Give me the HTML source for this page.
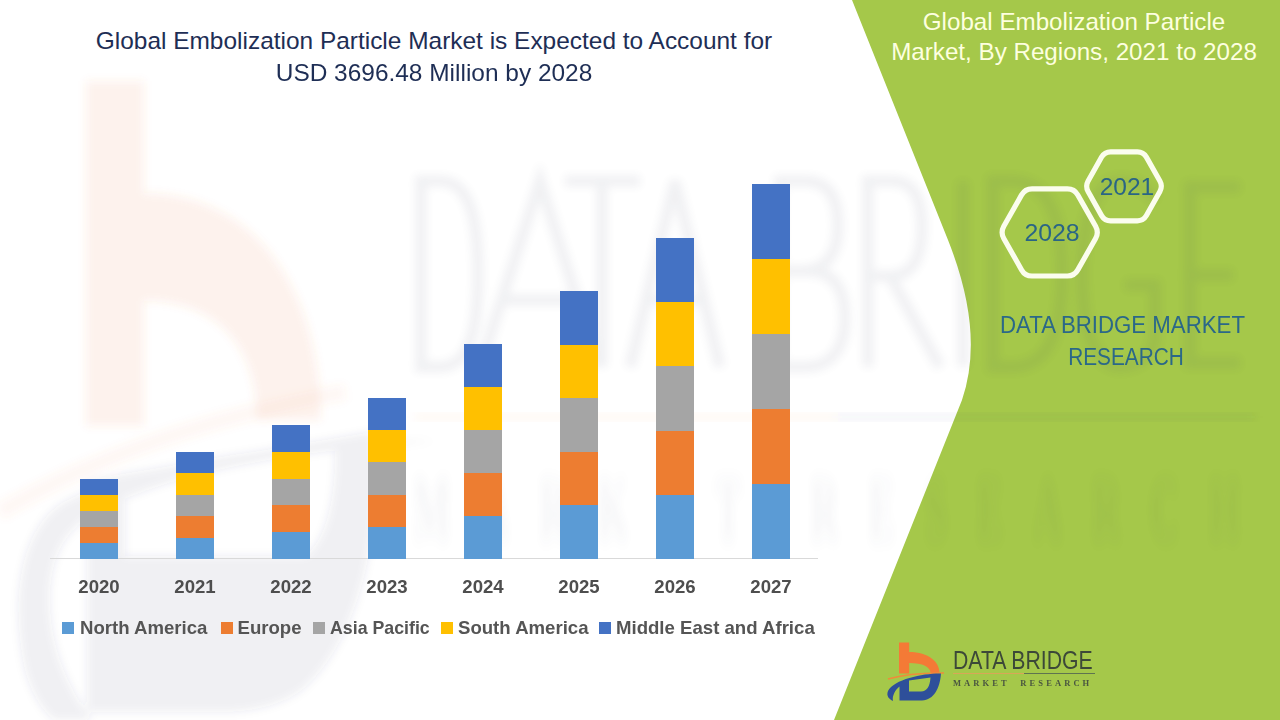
<!DOCTYPE html>
<html>
<head>
<meta charset="utf-8">
<style>
html,body{margin:0;padding:0;}
body{width:1280px;height:720px;position:relative;overflow:hidden;background:#ffffff;font-family:"Liberation Sans",sans-serif;}
.abs{position:absolute;}
.t{position:absolute;white-space:nowrap;line-height:1;}
.bar{position:absolute;width:38px;}
.lbl{position:absolute;white-space:nowrap;font-weight:bold;color:#4E4E4E;font-size:18.6px;line-height:1;}
.mk{position:absolute;width:11.5px;height:11.5px;top:622.3px;}
.leg{color:#555555 !important;}
</style>
</head>
<body>
<!-- background shapes -->
<svg class="abs" style="left:0;top:0" width="1280" height="720" viewBox="0 0 1280 720">
  <path d="M852,0 L1280,0 L1280,720 L834,720 L962,400 Q985,333 948,240 Z" fill="#A5C84A"/>
</svg>

<!-- watermark -->
<svg class="abs" style="left:0;top:0" width="1280" height="720" viewBox="0 0 1280 720">
  <defs>
    <filter id="bl" x="-20%" y="-20%" width="140%" height="140%"><feGaussianBlur stdDeviation="4"/></filter>
  </defs>
  <g filter="url(#bl)">
    <!-- orange b -->
    <g fill="#E97A42" opacity="0.09">
      <rect x="86" y="81" width="58" height="345"/>
      <path d="M144,193 C255,193 321,290 321,420 L257,420 C257,350 220,301 144,301 Z"/>
    </g>
    <path d="M0,512 Q140,430 345,392" fill="none" stroke="#E97A42" stroke-width="16" opacity="0.06"/>
    <!-- blue crescent + D -->
    <g fill="#3D4474" opacity="0.08">
      <path d="M437,441 C330,440 150,455 62,503 C20,530 10,600 25,670 C32,695 42,710 54,720 L92,720 C70,690 50,650 50,600 C50,560 62,530 100,510 C180,470 300,450 437,441 Z"/>
      <path fill-rule="evenodd" d="M87,480 L372,432 C385,520 362,640 302,690 C282,705 252,712 222,712 L87,712 Z M125,478 L335,448 C336,500 326,540 305,556 L125,556 Z"/>
    </g>
  </g>
  <g filter="url(#bl)" fill="none" stroke="#3A4060" stroke-width="11" stroke-linecap="butt" opacity="0.07">
    <path d="M421,181 L421,367 M415,181 L440,181 C470,181 478,220 478,274 C478,328 470,367 440,367 L415,367"/>
    <path d="M480,367 L540,181 L598,367 M500,300 L578,300"/>
    <path d="M565,181 L640,181 M602,181 L602,367"/>
    <path d="M630,367 L675,181 L720,367 M645,300 L705,300"/>
    <path d="M780,181 L780,367 M774,181 L805,181 C830,181 838,200 838,226 C838,255 825,271 800,271 L780,271 M780,271 L808,271 C835,271 845,290 845,318 C845,350 830,367 805,367 L774,367"/>
    <path d="M868,181 L868,367 M862,181 L892,181 C915,181 922,200 922,228 C922,258 912,276 890,276 L868,276 M890,276 L940,367"/>
    <path d="M963,181 L963,367"/>
    <path d="M993,181 L993,367 M987,181 L1012,181 C1050,181 1062,220 1062,274 C1062,328 1050,367 1012,367 L987,367"/>
    <path d="M1155,200 C1145,186 1132,181 1120,181 C1095,181 1082,220 1082,274 C1082,328 1095,367 1120,367 C1140,367 1152,355 1155,340 L1155,285 L1125,285"/>
    <path d="M1190,181 L1190,367 M1184,187 L1240,187 M1184,275 L1233,275 M1184,363 L1240,363"/>
  </g>
  <g filter="url(#bl)">
    <rect x="415" y="414" width="420" height="6" fill="#ED7D31" opacity="0.06"/>
    <rect x="835" y="414" width="420" height="6" fill="#3A4060" opacity="0.06"/>
  </g>
  <text x="413" y="540" font-family="Liberation Serif" font-weight="bold" font-size="40" fill="#3A4060" opacity="0.05" transform="translate(0,540) scale(1,2.3) translate(0,-540)" textLength="827" lengthAdjust="spacing" filter="url(#bl)">MARKET  RESEARCH</text>
</svg>

<!-- title -->
<div class="t" style="left:0;width:868px;text-align:center;top:29px;font-size:24.45px;color:#1E2E55;">Global Embolization Particle Market is Expected to Account for</div>
<div class="t" style="left:0;width:868px;text-align:center;top:61px;font-size:24.45px;color:#1E2E55;">USD 3696.48 Million by 2028</div>

<!-- axis -->
<div class="abs" style="left:50px;top:558px;width:768px;height:1px;background:#D9D9D9"></div>

<!-- bars generated -->
<div class="bar" style="left:80px;top:543px;height:16px;background:#5B9BD5"></div>
<div class="bar" style="left:80px;top:527px;height:16px;background:#ED7D31"></div>
<div class="bar" style="left:80px;top:511px;height:16px;background:#A5A5A5"></div>
<div class="bar" style="left:80px;top:495px;height:16px;background:#FFC000"></div>
<div class="bar" style="left:80px;top:479px;height:16px;background:#4472C4"></div>
<div class="bar" style="left:176px;top:538px;height:21px;background:#5B9BD5"></div>
<div class="bar" style="left:176px;top:516px;height:22px;background:#ED7D31"></div>
<div class="bar" style="left:176px;top:495px;height:21px;background:#A5A5A5"></div>
<div class="bar" style="left:176px;top:473px;height:22px;background:#FFC000"></div>
<div class="bar" style="left:176px;top:452px;height:21px;background:#4472C4"></div>
<div class="bar" style="left:272px;top:532px;height:27px;background:#5B9BD5"></div>
<div class="bar" style="left:272px;top:505px;height:27px;background:#ED7D31"></div>
<div class="bar" style="left:272px;top:479px;height:26px;background:#A5A5A5"></div>
<div class="bar" style="left:272px;top:452px;height:27px;background:#FFC000"></div>
<div class="bar" style="left:272px;top:425px;height:27px;background:#4472C4"></div>
<div class="bar" style="left:368px;top:527px;height:32px;background:#5B9BD5"></div>
<div class="bar" style="left:368px;top:495px;height:32px;background:#ED7D31"></div>
<div class="bar" style="left:368px;top:462px;height:33px;background:#A5A5A5"></div>
<div class="bar" style="left:368px;top:430px;height:32px;background:#FFC000"></div>
<div class="bar" style="left:368px;top:398px;height:32px;background:#4472C4"></div>
<div class="bar" style="left:464px;top:516px;height:43px;background:#5B9BD5"></div>
<div class="bar" style="left:464px;top:473px;height:43px;background:#ED7D31"></div>
<div class="bar" style="left:464px;top:430px;height:43px;background:#A5A5A5"></div>
<div class="bar" style="left:464px;top:387px;height:43px;background:#FFC000"></div>
<div class="bar" style="left:464px;top:344px;height:43px;background:#4472C4"></div>
<div class="bar" style="left:560px;top:505px;height:54px;background:#5B9BD5"></div>
<div class="bar" style="left:560px;top:452px;height:53px;background:#ED7D31"></div>
<div class="bar" style="left:560px;top:398px;height:54px;background:#A5A5A5"></div>
<div class="bar" style="left:560px;top:345px;height:53px;background:#FFC000"></div>
<div class="bar" style="left:560px;top:291px;height:54px;background:#4472C4"></div>
<div class="bar" style="left:656px;top:495px;height:64px;background:#5B9BD5"></div>
<div class="bar" style="left:656px;top:431px;height:64px;background:#ED7D31"></div>
<div class="bar" style="left:656px;top:366px;height:65px;background:#A5A5A5"></div>
<div class="bar" style="left:656px;top:302px;height:64px;background:#FFC000"></div>
<div class="bar" style="left:656px;top:238px;height:64px;background:#4472C4"></div>
<div class="bar" style="left:752px;top:484px;height:75px;background:#5B9BD5"></div>
<div class="bar" style="left:752px;top:409px;height:75px;background:#ED7D31"></div>
<div class="bar" style="left:752px;top:334px;height:75px;background:#A5A5A5"></div>
<div class="bar" style="left:752px;top:259px;height:75px;background:#FFC000"></div>
<div class="bar" style="left:752px;top:184px;height:75px;background:#4472C4"></div>

<!-- year labels -->
<div class="lbl" style="left:99px;top:578px;transform:translateX(-50%)">2020</div>
<div class="lbl" style="left:195px;top:578px;transform:translateX(-50%)">2021</div>
<div class="lbl" style="left:291px;top:578px;transform:translateX(-50%)">2022</div>
<div class="lbl" style="left:387px;top:578px;transform:translateX(-50%)">2023</div>
<div class="lbl" style="left:483px;top:578px;transform:translateX(-50%)">2024</div>
<div class="lbl" style="left:579px;top:578px;transform:translateX(-50%)">2025</div>
<div class="lbl" style="left:675px;top:578px;transform:translateX(-50%)">2026</div>
<div class="lbl" style="left:771px;top:578px;transform:translateX(-50%)">2027</div>

<!-- legend -->
<div class="mk" style="left:62px;background:#5B9BD5"></div>
<div class="lbl leg" style="left:80px;top:619px">North America</div>
<div class="mk" style="left:221px;background:#ED7D31"></div>
<div class="lbl leg" style="left:237.5px;top:619px">Europe</div>
<div class="mk" style="left:313px;background:#A5A5A5"></div>
<div class="lbl leg" style="left:330px;top:619px;transform-origin:0 0;transform:scaleX(0.955)">Asia Pacific</div>
<div class="mk" style="left:441px;background:#FFC000"></div>
<div class="lbl leg" style="left:458px;top:619px">South America</div>
<div class="mk" style="left:599px;background:#4472C4"></div>
<div class="lbl leg" style="left:616px;top:619px">Middle East and Africa</div>

<!-- right panel text -->
<div class="t" style="left:874px;width:400px;text-align:center;top:10px;font-size:24.2px;color:#FDFFDF;">Global Embolization Particle</div>
<div class="t" style="left:874px;width:400px;text-align:center;top:40px;font-size:24.2px;color:#FDFFDF;">Market, By Regions, 2021 to 2028</div>

<svg class="abs" style="left:0;top:0" width="1280" height="720" viewBox="0 0 1280 720">
  <path d="M1003.8,226.3 L1021.6,194.9 Q1025.0,188.8 1032.0,188.8 L1067.4,188.8 Q1074.4,188.8 1077.8,194.9 L1095.6,226.3 Q1099.0,232.4 1095.6,238.5 L1077.8,269.9 Q1074.4,276.0 1067.4,276.0 L1032.0,276.0 Q1025.0,276.0 1021.6,269.9 L1003.8,238.5 Q1000.4,232.4 1003.8,226.3 Z" fill="none" stroke="#FBFDEE" stroke-width="5.2"/>
  <path d="M1088.1,181.1 L1101.6,157.1 Q1104.6,151.9 1110.6,151.9 L1137.4,151.9 Q1143.4,151.9 1146.4,157.1 L1159.9,181.1 Q1162.8,186.3 1159.9,191.6 L1146.4,215.6 Q1143.4,220.8 1137.4,220.8 L1110.6,220.8 Q1104.6,220.8 1101.6,215.6 L1088.1,191.6 Q1085.2,186.3 1088.1,181.1 Z" fill="none" stroke="#FBFDEE" stroke-width="5.2"/>
</svg>
<div class="t" style="left:1000px;width:104px;text-align:center;top:220.5px;font-size:24.8px;color:#2A6585;">2028</div>
<div class="t" style="left:1075px;width:104px;text-align:center;top:175px;font-size:24.5px;color:#2A6585;">2021</div>

<div class="t" style="left:924px;width:400px;text-align:center;top:314px;font-size:23.5px;color:#2B6888;transform:translateX(-1.5px) scaleX(0.946)">DATA BRIDGE MARKET</div>
<div class="t" style="left:926px;width:400px;text-align:center;top:345.5px;font-size:23.5px;color:#2B6888;transform:scaleX(0.886)">RESEARCH</div>


<!-- bottom-right logo -->
<svg class="abs" style="left:880px;top:636px" width="70" height="70" viewBox="0 0 70 70">
  <g fill="#F47A36">
    <rect x="19" y="6.5" width="10.2" height="31"/>
    <path d="M29,16 C49,16 59.5,26 59.5,37 L50.5,37 C50.5,31 43,27 29,27 Z"/>
  </g>
  <path d="M8,43 Q30,36.5 64,37" fill="none" stroke="#F08A3A" stroke-width="1.6"/>
  <path fill="#2E4F9A" fill-rule="evenodd" d="M61,37.5 C45,37 14,43 8,55 C6,60 9,63 13,65 C12,60 15,54 19.5,50.5 L19.5,64.5 L42,64.5 C54,64 60,52 61,37.5 Z M29,44.5 L50.5,41.5 C50,50 47,55.5 41,55.5 L29,55.5 Z"/>
</svg>
<div class="t" style="left:953px;top:648px;font-size:25px;color:#3C4838;transform-origin:0 0;transform:scaleX(0.85)" id="dbt">DATA BRIDGE</div>
<div class="abs" style="left:953px;top:672.5px;width:71px;height:1.6px;background:#D9A657"></div>
<div class="abs" style="left:1024px;top:672.5px;width:71px;height:1.6px;background:#5F7450"></div>
<div class="t" style="left:953px;top:678.5px;font-family:'Liberation Serif',serif;font-weight:bold;font-size:8.5px;color:#4A5640;letter-spacing:3.1px">MARKET&nbsp;&nbsp;RESEARCH</div>

</body>
</html>
